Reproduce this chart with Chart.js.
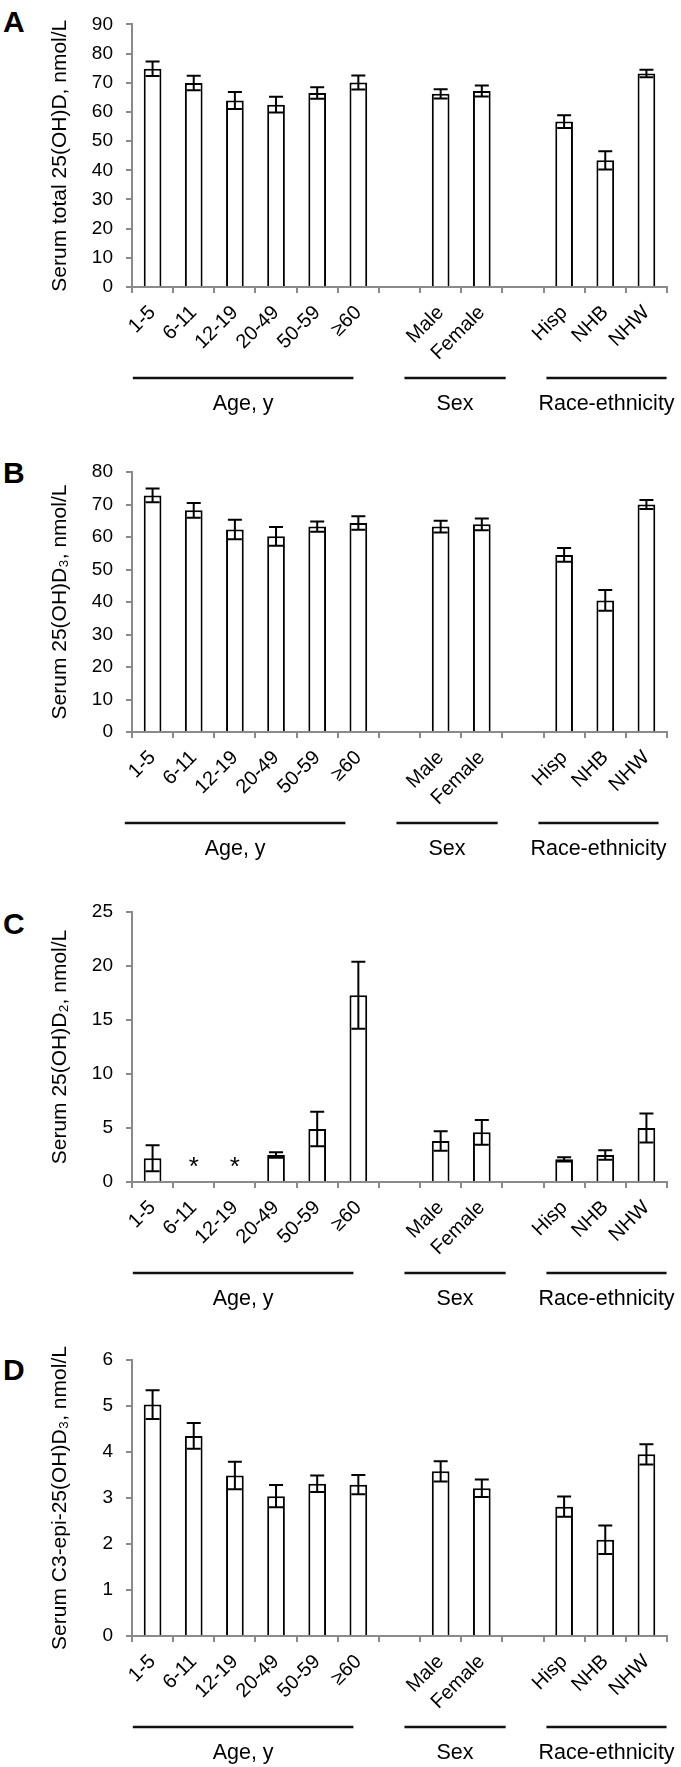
<!DOCTYPE html>
<html>
<head>
<meta charset="utf-8">
<script src="https://cdn.jsdelivr.net/npm/chart.js@4.4.0/dist/chart.umd.min.js"></script>
<style>
  body { margin: 0; background: #fff; width: 681px; height: 1767px; position: relative; overflow: hidden; }
  .panel { position: absolute; left: 0; }
  .letter { position: absolute; left: 3px; font: bold 30px "Liberation Sans", Arial, sans-serif; line-height: 30px; }
</style>
</head>
<body>
<div class="letter" style="top:7px">A</div>
<div class="letter" style="top:458px">B</div>
<div class="letter" style="top:909px">C</div>
<div class="letter" style="top:1355px">D</div>
<canvas class="panel" id="chartA" width="681" height="440" style="top:0px"></canvas>
<canvas class="panel" id="chartB" width="681" height="440" style="top:440px"></canvas>
<canvas class="panel" id="chartC" width="681" height="440" style="top:880px"></canvas>
<canvas class="panel" id="chartD" width="681" height="447" style="top:1320px"></canvas>
<script>
// Categorias (los huecos separan los grupos)
const categories = ["1-5", "6-11", "12-19", "20-49", "50-59", "≥60", "", "Male", "Female", "", "Hisp", "NHB", "NHW"];

// A: 25(OH)D total
const totalMean = [74.8, 69.9, 63.9, 62.5, 66.5, 70.1, null, 66.2, 67.2, null, 56.7, 43.4, 73.2];
const totalErr = [2.5, 2.5, 2.9, 2.7, 2.0, 2.4, null, 1.6, 1.9, null, 2.2, 3.1, 1.3];

// B: 25(OH)D3
const d3Mean = [72.8, 68.2, 62.3, 60.2, 63.2, 64.3, null, 63.2, 63.9, null, 54.5, 40.5, 70.0];
const d3Err = [2.1, 2.3, 3.0, 2.9, 1.6, 2.1, null, 1.8, 1.8, null, 2.1, 3.2, 1.4];

// C: 25(OH)D2 (* = sin dato)
const d2Mean = [2.2, null, null, 2.5, 4.9, 17.3, null, 3.8, 4.6, null, 2.1, 2.5, 5.0];
const d2Err = [1.2, null, null, 0.25, 1.6, 3.1, null, 0.9, 1.15, null, 0.2, 0.45, 1.35];
const d2Star = [null, 2, 2, null, null, null, null, null, null, null, null, null, null];

// D: C3-epi-25(OH)D3
const epiMean = [5.03, 4.35, 3.49, 3.04, 3.31, 3.29, null, 3.58, 3.21, null, 2.81, 2.09, 3.95];
const epiErr = [0.31, 0.28, 0.3, 0.24, 0.18, 0.21, null, 0.22, 0.19, null, 0.22, 0.31, 0.22];

// Grupos bajo el eje (inicio y fin en unidades de categoria)
const groupNames = ["Age, y", "Sex", "Race-ethnicity"];
const groupStart = [-0.48, 6.12, 9.57];
const groupEnd = [4.88, 8.58, 12.49];

const FONT = '"Liberation Sans", Arial, sans-serif';
const axisGray = "#8a8a8a";

// Barras de error simetricas
const errorBars = {
  id: "errorBars",
  afterDatasetsDraw(chart) {
    const { ctx, scales: { y } } = chart;
    const meta = chart.getDatasetMeta(0);
    const errs = chart.options.errData;
    const means = chart.data.datasets[0].data;
    ctx.save();
    ctx.strokeStyle = "#000";
    ctx.lineWidth = 2;
    means.forEach((m, i) => {
      if (m === null) return;
      const x = meta.data[i].x;
      const top = y.getPixelForValue(m + errs[i]);
      const bot = y.getPixelForValue(m - errs[i]);
      ctx.beginPath();
      ctx.moveTo(x, top); ctx.lineTo(x, bot);
      ctx.moveTo(x - 7, top); ctx.lineTo(x + 7, top);
      ctx.moveTo(x - 7, bot); ctx.lineTo(x + 7, bot);
      ctx.stroke();
    });
    // asteriscos
    const stars = chart.options.starData;
    if (stars) {
      ctx.fillStyle = "#000";
      ctx.font = "26px " + FONT;
      ctx.textAlign = "center";
      ctx.textBaseline = "alphabetic";
      stars.forEach((s, i) => {
        if (s === null) return;
        const x = chart.scales.x.getPixelForValue(i);
        ctx.fillText("*", x, y.getPixelForValue(s) + 15);
      });
    }
    ctx.restore();
  }
};

// Lineas y nombres de grupo
const groupLines = {
  id: "groupLines",
  afterDraw(chart) {
    const { ctx, chartArea, scales: { x } } = chart;
    const shift = chart.options.groupShift || 0;
    const lineY = chartArea.bottom + 91;
    ctx.save();
    ctx.strokeStyle = "#111";
    ctx.lineWidth = 2.5;
    ctx.fillStyle = "#000";
    ctx.font = "21.5px " + FONT;
    ctx.textAlign = "center";
    ctx.textBaseline = "middle";
    groupNames.forEach((name, g) => {
      const x1 = x.getPixelForValue(groupStart[g]) + shift;
      const x2 = x.getPixelForValue(groupEnd[g]) + shift;
      ctx.beginPath();
      ctx.moveTo(x1, lineY); ctx.lineTo(x2, lineY);
      ctx.stroke();
      let cx = (x1 + x2) / 2;
      if (g === 2) cx = Math.min(cx, 681 - ctx.measureText(name).width / 2 - 1);
      ctx.fillText(name, cx, chartArea.bottom + 117);
    });
    ctx.restore();
  }
};

function makePanel(id, means, errs, opts) {
  const ctx = document.getElementById(id).getContext("2d");
  return new Chart(ctx, {
    type: "bar",
    data: {
      labels: categories,
      datasets: [{
        data: means,
        backgroundColor: "#fff",
        borderColor: "#000",
        borderWidth: 2,
        barPercentage: 0.43,
        categoryPercentage: 1
      }]
    },
    options: {
      responsive: false,
      animation: false,
      errData: errs,
      starData: opts.stars,
      groupShift: opts.shift,
      layout: { padding: { top: opts.padTop, right: 14, left: 0, bottom: 0 } },
      plugins: { legend: { display: false }, tooltip: { enabled: false } },
      scales: {
        x: {
          grid: { offset: true, drawOnChartArea: false, color: axisGray, lineWidth: 2, tickLength: 6 },
          border: { color: axisGray, width: 2 },
          ticks: { autoSkip: false, minRotation: 45, maxRotation: 45, color: "#000", padding: 8, font: { family: FONT, size: 20 } },
          afterFit: (s) => { s.height = opts.xHeight; }
        },
        y: {
          min: 0,
          max: opts.max,
          grid: { drawOnChartArea: false, color: axisGray, lineWidth: 2, tickLength: 6 },
          border: { color: axisGray, width: 2 },
          ticks: { stepSize: opts.step, color: "#000", padding: 13, font: { family: FONT, size: 19 } },
          title: { display: true, text: opts.title, color: "#000", padding: { top: 48, bottom: 0 }, font: { family: FONT, size: 21 } },
          afterFit: (s) => { s.width = 132; }
        }
      }
    },
    plugins: [errorBars, groupLines]
  });
}

makePanel("chartA", totalMean, totalErr, { max: 90, step: 10, padTop: 10, xHeight: 153, shift: 0, title: "Serum total 25(OH)D, nmol/L" });
makePanel("chartB", d3Mean, d3Err, { max: 80, step: 10, padTop: 32, xHeight: 148, shift: -8, title: "Serum 25(OH)D₃, nmol/L" });
makePanel("chartC", d2Mean, d2Err, { max: 25, step: 5, padTop: 32, xHeight: 138, shift: 0, stars: d2Star, title: "Serum 25(OH)D₂, nmol/L" });
makePanel("chartD", epiMean, epiErr, { max: 6, step: 1, padTop: 40, xHeight: 131, shift: 0, title: "Serum C3-epi-25(OH)D₃, nmol/L" });
</script>
</body>
</html>
